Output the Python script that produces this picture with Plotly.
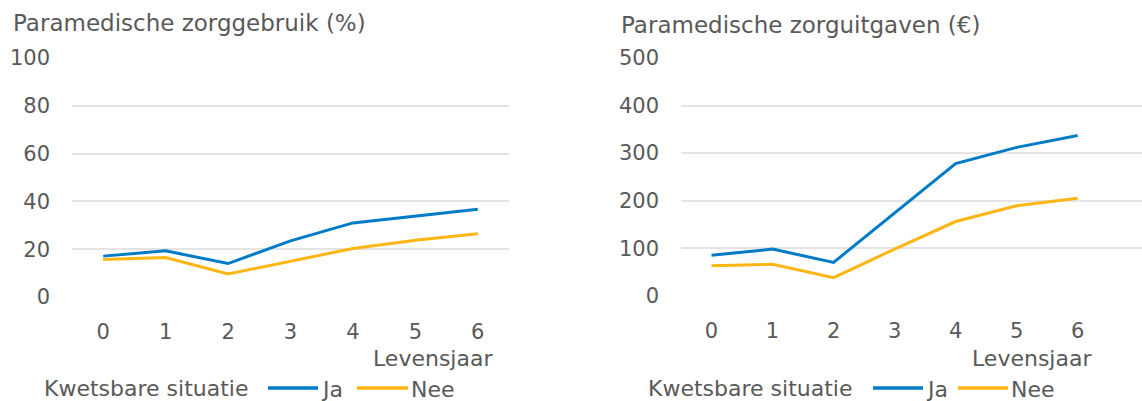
import plotly.graph_objects as go

jaar = [0, 1, 2, 3, 4, 5, 6]
gebruik_ja = [17.1, 19.3, 14.0, 23.5, 31.0, 33.8, 36.7]
gebruik_nee = [15.7, 16.5, 9.6, 14.9, 20.3, 23.7, 26.5]
uitgaven_ja = [85, 98, 70, 175, 278, 312, 337]
uitgaven_nee = [63, 66, 38, 98, 156, 189, 205]
series_names = ["Ja", "Nee"]
legend_title = "Kwetsbare situatie"

BLUE = "#007bc7"
ORANGE = "#ffb612"
GRAY = "#595959"
GRID = "#e4e4e4"
FONT = "DejaVu Sans"
W, H = 1142, 401

fig = go.Figure()
fig.add_trace(go.Scatter(x=jaar, y=gebruik_ja, mode="lines", name=series_names[0],
                         line=dict(color=BLUE, width=3), xaxis="x", yaxis="y"))
fig.add_trace(go.Scatter(x=jaar, y=gebruik_nee, mode="lines", name=series_names[1],
                         line=dict(color=ORANGE, width=3), xaxis="x", yaxis="y"))
fig.add_trace(go.Scatter(x=jaar, y=uitgaven_ja, mode="lines", name=series_names[0],
                         line=dict(color=BLUE, width=3), xaxis="x2", yaxis="y2"))
fig.add_trace(go.Scatter(x=jaar, y=uitgaven_nee, mode="lines", name=series_names[1],
                         line=dict(color=ORANGE, width=3), xaxis="x2", yaxis="y2"))

xcommon = dict(tickvals=jaar, ticktext=[str(v) for v in jaar], showgrid=False, zeroline=False,
               showline=False, ticks="", tickfont=dict(family=FONT, size=21, color=GRAY),
               ticklabelstandoff=20, fixedrange=True, automargin=False)
ycommon = dict(showgrid=True, gridcolor=GRID, gridwidth=2, zeroline=False, showline=False,
               ticks="", tickfont=dict(family=FONT, size=21, color=GRAY),
               ticklabelstandoff=21, fixedrange=True, automargin=False)

fig.update_layout(
    width=W, height=H, margin=dict(l=0, r=0, t=0, b=0, autoexpand=False),
    paper_bgcolor="white", plot_bgcolor="white", showlegend=False,
    xaxis=dict(domain=[72 / W, 509 / W], range=[-0.5, 6.5], anchor="y", **xcommon),
    yaxis=dict(domain=[(H - 297) / H, (H - 58) / H], range=[0, 100],
               tickvals=[0, 20, 40, 60, 80, 100], anchor="x", **ycommon),
    xaxis2=dict(domain=[681 / W, 1.0], range=[-0.5, (1142 - 711.7) / 61], anchor="y2", **xcommon),
    yaxis2=dict(domain=[(H - 295.7) / H, (H - 58) / H], range=[0, 500],
                tickvals=[0, 100, 200, 300, 400, 500], anchor="x2", **ycommon),
)

def txt(text, x, y, xanchor="left", size=22):
    fig.add_annotation(xref="paper", yref="paper", showarrow=False, text=text,
                       x=x / W, y=(H - y) / H, xanchor=xanchor, yanchor="middle",
                       font=dict(family=FONT, size=size, color=GRAY))

txt("Paramedische zorggebruik (%)", 11, 23, size=23)
txt("Paramedische zorguitgaven (€)", 619, 25, size=23)
txt("Levensjaar", 495, 358, "right")
txt("Levensjaar", 1094, 358, "right")

# legends (one per panel)
for x0, (l1, l2, l3, l4) in [(42, (268, 318, 357, 408)), (646, (873, 923, 958, 1008))]:
    txt(legend_title, x0, 388)
    for (a, b), color, name in [((l1, l2), BLUE, series_names[0]), ((l3, l4), ORANGE, series_names[1])]:
        fig.add_shape(type="line", xref="paper", yref="paper", x0=a / W, x1=b / W,
                      y0=(H - 388) / H, y1=(H - 388) / H, line=dict(color=color, width=3.5))
        txt(name, b + 1, 389)

fig.write_html("out.html")
